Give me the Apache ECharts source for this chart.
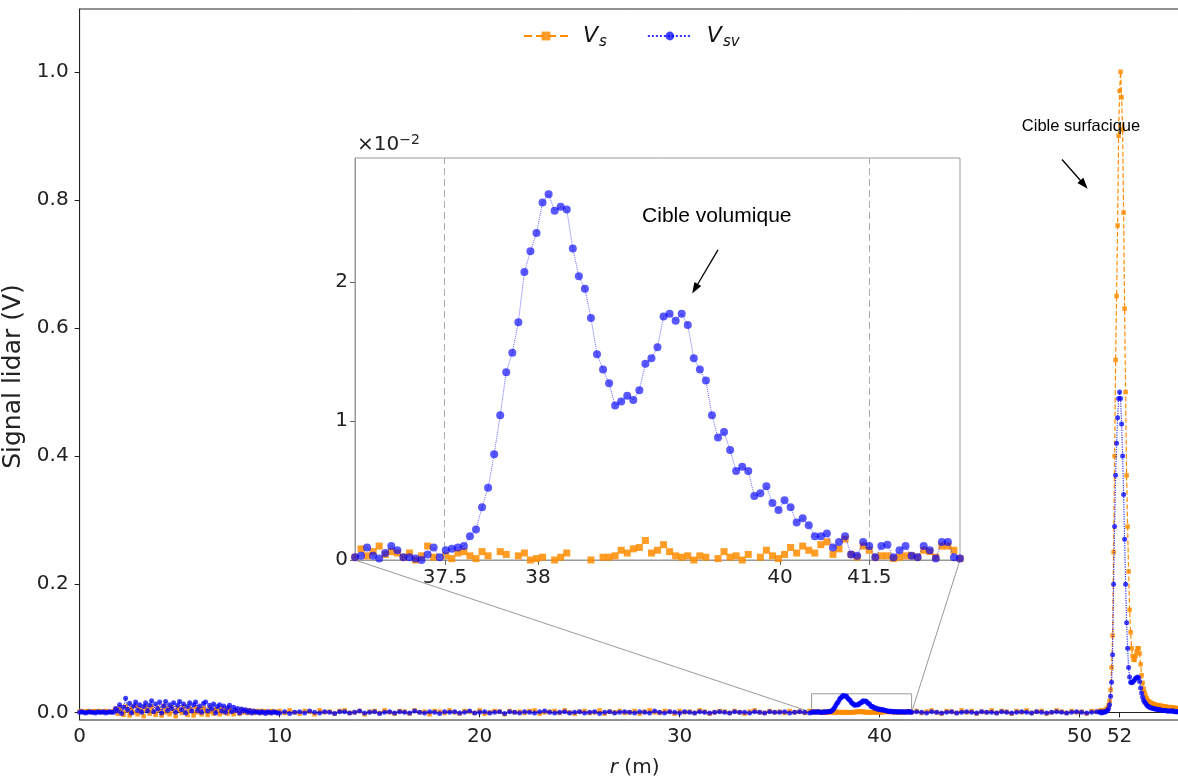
<!DOCTYPE html>
<html>
<head>
<meta charset="utf-8">
<script src="https://cdn.jsdelivr.net/npm/echarts@6/dist/echarts.min.js"></script>
<style>html,body{margin:0;padding:0;background:#fff}#c{width:1178px;height:777px}</style>
</head>
<body>
<div id="c"></div>
<script>
// ---------------- DATA ----------------
// Segment A1: r = 0.0 .. 9.9 m, step 0.1 m (values in mV)
const a1Start = 0, a1Step = 0.1;
const vsA1 = [1,2,0,1,2,1,0,2,1,1,2,0,1,2,1,0,1,2,
  5,-2,8,1,-4,9,3,-5,7,0, 10,-3,6,2,-6,8,4,-2,9,1, -4,7,3,-5,10,0,6,-3,8,2,
  -6,7,4,-1,9,1,-4,6,3,-5, 8,0,5,-3,7,2,-4,6,1,-2, 5,3,-3,6,0,4,-2,5,1,-3,
  4,2,-2,4,0,3,-1,3,1,-1, 2,0,2,-1,2,0,1,-1,2,0, 1,-1];
const vsvA1 = [0,1,0,-1,0,1,0,0,-1,1,0,0,1,-1,0,1,0,0,
  6,2,12,-2,8,22,4,14,-1,10, 16,3,12,0,9,15,2,11,18,1, 13,5,16,-1,10,17,3,12,6,15,
  0,11,17,4,13,-1,9,15,2,12, 16,3,10,0,14,16,2,11,5,13, -1,9,12,2,10,0,7,11,1,8,
  3,6,-1,5,2,4,0,3,-1,2, 0,1,-1,1,0,-2,1,0,-1,1, 0,-1];
// Segment A2: r = 10.0 .. 36.5 m, step 0.25 m (mV)
const a2Start = 10, a2Step = 0.25;
const vsA2 = [2,-1,3,0,-2,2,1,-3,3,0, 1,-2,2,3,-1,0,2,-3,1,2, -1,3,0,-2,2,1,-2,3,0,1,
  -3,2,1,-1,3,0,-2,2,1,-1, 3,-2,0,2,1,-3,2,0,1,-1, 2,3,-2,0,1,2,-1,3,0,-2,
  1,2,-1,0,3,-2,1,0,2,-1, 0,2,-2,1,3,0,-1,2,1,-2, 2,0,1,-1,3,1,-2,0,2,1,
  -1,2,0,-2,1,3,0,-1,2,0, 1,-1,2,0,1,-1,2];
const vsvA2 = [-1,1,-2,0,1,-1,2,0,-1,1, 0,-2,1,1,-1,0,2,-1,0,1, -2,0,1,-1,1,0,-1,2,0,-1,
  1,0,-2,1,0,1,-1,0,2,-1, 0,1,-1,0,1,-2,1,0,-1,1, 0,-1,1,2,0,-1,0,1,-1,0,
  1,-1,0,1,-2,0,1,-1,0,1, 0,-1,1,0,-1,2,0,-1,1,0, -1,1,0,-1,1,0,-1,0,1,0,
  -1,1,0,0,-1,1,0,-1,1,0, 0,1,-1,0,1,0,-1];
// Zoomed segment: r = 36.60 .. 41.60 m, step 0.05 m (values in 1e-2 V)
const zStart = 36.6, zStep = 0.05;
const vsZoom = [0.02,0.08,0.03,0.06,0.10,0.04,0.06,0.05,0.02,0.05,
  0.00,0.03,0.10,0.02,-0.03,0.03,0.01,0.05,0.06,0.03,
  0.01,0.06,0.03,-0.02,0.06,0.04,-0.03,0.03,0.05,0.00,
  0.01,0.02,-0.03,0.00,0.02,0.05,-0.02,-0.04,-0.03,0.00,
  -0.02,0.02,0.02,0.03,0.07,0.05,0.08,0.09,0.14,0.05,
  0.07,0.11,0.06,0.03,0.02,0.03,0.00,0.03,0.02,-0.02,
  0.01,0.06,0.02,0.03,0.00,0.04,-0.02,0.02,0.07,0.03,
  0.01,0.04,0.09,0.05,0.10,0.07,0.05,0.11,0.13,0.04,
  0.08,0.15,0.04,0.02,0.10,0.07,0.02,0.03,0.03,0.01,
  0.02,0.03,0.03,0.02,0.07,0.06,0.02,0.10,0.10,0.07,
  0.01];
const vsvZoom = [0.02,0.03,0.09,0.03,0.01,0.05,0.10,0.07,0.02,0.02,
  0.01,0.00,0.04,0.09,0.02,0.07,0.08,0.09,0.10,0.17,
  0.22,0.38,0.52,0.76,1.04,1.35,1.49,1.71,2.07,2.22,
  2.35,2.57,2.63,2.51,2.54,2.52,2.24,2.04,1.95,1.74,
  1.48,1.37,1.27,1.11,1.14,1.18,1.15,1.22,1.41,1.45,
  1.53,1.75,1.77,1.72,1.77,1.69,1.45,1.37,1.29,1.04,
  0.88,0.92,0.79,0.64,0.67,0.64,0.46,0.48,0.53,0.41,
  0.36,0.43,0.38,0.27,0.30,0.25,0.17,0.17,0.19,0.09,
  0.13,0.17,0.04,0.03,0.13,0.10,0.02,0.10,0.11,0.02,
  0.07,0.10,0.03,0.02,0.10,0.07,0.01,0.13,0.13,0.02,
  0.01];
// Segment C: r = 41.85 .. 50.85 m, step 0.25 m (mV)
const cStart = 41.85, cStep = 0.25;
const vsC = [2,-1,1,3,0,-2,2,1,-1,3, 0,2,-2,1,0,3,-1,2,1,-2, 2,0,3,-1,1,2,-2,0,3,1, -1,2,0,1,-2,2,1];
const vsvC = [1,0,-1,1,0,-1,0,1,-1,0, 1,0,-1,1,0,0,-1,1,0,-1, 0,1,0,-1,1,0,-1,0,1,0, -1,0,1,0,-1,0,1];
// Segment D (surface target): r = 51.00 .. 55.00 m, step 0.05 m (V)
const dStart = 51, dStep = 0.05;
const vsD = [0.002,0.003,0.001,0.003,0.002,0.003,0.004,0.005,0.007,0.011,
  0.018,0.035,0.07,0.12,0.25,0.40,0.55,0.65,0.76,0.90,
  0.97,1.00,0.96,0.91,0.78,0.63,0.50,0.37,0.29,0.22,
  0.16,0.125,0.10,0.088,0.082,0.082,0.088,0.095,0.10,0.10,
  0.092,0.075,0.058,0.046,0.037,0.031,0.026,0.022,0.019,0.017,
  0.016,0.015,0.014,0.013,0.013,0.012,0.012,0.011,0.011,0.011,
  0.010,0.010,0.010,0.009,0.009,0.009,0.009,0.008,0.008,0.008,
  0.008,0.008,0.007,0.007,0.007,0.007,0.007,0.006,0.006,0.006,
  0.006];
const vsvD = [0,0.001,-0.001,0,0.001,0,0.001,0.002,0.003,0.006,
  0.012,0.025,0.047,0.09,0.20,0.29,0.37,0.42,0.46,0.49,
  0.50,0.49,0.45,0.40,0.34,0.27,0.20,0.14,0.10,0.07,
  0.055,0.047,0.046,0.047,0.049,0.051,0.053,0.054,0.055,0.054,
  0.048,0.038,0.030,0.024,0.019,0.016,0.014,0.012,0.010,0.009,
  0.008,0.007,0.007,0.006,0.006,0.005,0.005,0.005,0.004,0.004,
  0.004,0.004,0.003,0.003,0.003,0.003,0.003,0.002,0.002,0.002,
  0.002,0.002,0.002,0.002,0.002,0.001,0.001,0.001,0.001,0.001,
  0.001];
// Ticks
const mainXTicks = [0,10,20,30,40,50,52];
const mainYTicks = [0,0.2,0.4,0.6,0.8,1.0];
const zoomXTickPos = [37.344,38.112,40.112,40.85];
const zoomXTickLabels = ['37.5','38','40','41.5'];
const zoomYTicks = [0,1,2];
const zoomRange = [36.6, 41.6, 0, 2.89];   // r min, r max, y min, y max (1e-2 V)
const zoomGuides = [37.344, 40.85];
// Annotations
const annSurf = {text:'Cible surfacique', at:[50.07,0.9145], from:[49.12,0.863], to:[50.22,0.824]};
const annVol = {text:'Cible volumique', at:[39.59,2.47], from:[39.6,2.23], to:[39.41,1.95]};

// ---------------- BUILD ----------------
function seg(start, step, vals, k){ return vals.map((v,i)=>[+(start+i*step).toFixed(4), v*k]); }
const vsMain = [].concat(seg(a1Start,a1Step,vsA1,1e-3), seg(a2Start,a2Step,vsA2,1e-3),
  seg(zStart,zStep,vsZoom,1e-2), seg(cStart,cStep,vsC,1e-3), seg(dStart,dStep,vsD,1));
const vsvMain = [].concat(seg(a1Start,a1Step,vsvA1,1e-3), seg(a2Start,a2Step,vsvA2,1e-3),
  seg(zStart,zStep,vsvZoom,1e-2), seg(cStart,cStep,vsvC,1e-3), seg(dStart,dStep,vsvD,1));
const vsIn = seg(zStart,zStep,vsZoom,1);
const vsvIn = seg(zStart,zStep,vsvZoom,1);

const FONT = 'DejaVu Sans';
const ORANGE = '#ff8c00', BLUE = '#0000ff';
const chart = echarts.init(document.getElementById('c'));
const axisCommon = (c)=>({axisLine:{lineStyle:{color:c,width:1}}, splitLine:{show:false}});

chart.setOption({
  animation:false,
  backgroundColor:'#fff',
  grid:[
    {left:79.6, top:9, width:1110, height:711, show:true, borderColor:'#222', borderWidth:1, outerBoundsMode:'none', containLabel:false},
    {left:355, top:158, width:605, height:402, show:true, borderColor:'#999', borderWidth:1, backgroundColor:'#fff', outerBoundsMode:'none', containLabel:false}
  ],
  legend:{
    top:25, left:523, padding:0, itemWidth:44, itemHeight:11, itemGap:40,
    data:['Vs','Vsv'],
    formatter:(n)=> n==='Vs' ? '{v|V}{s|s}' : '{v|V}{s|sv}',
    textStyle:{color:'#111', rich:{
      v:{fontFamily:FONT, fontStyle:'italic', fontSize:22, padding:[0,0,0,10]},
      s:{fontFamily:FONT, fontStyle:'italic', fontSize:15, padding:[12,0,0,1]}
    }}
  },
  xAxis:[
    Object.assign({type:'value', gridIndex:0, min:0, max:55.5,
      axisTick:{customValues:mainXTicks, length:5, lineStyle:{color:'#222'}},
      axisLabel:{customValues:mainXTicks, fontSize:20, fontFamily:FONT, color:'#222', margin:7},
      name:'{i|r} (m)', nameLocation:'middle', nameGap:38,
      nameTextStyle:{fontSize:20, fontFamily:FONT, color:'#222', rich:{i:{fontStyle:'italic', fontSize:20, fontFamily:FONT}}}
    }, axisCommon('#222')),
    Object.assign({type:'value', gridIndex:1, min:zoomRange[0], max:zoomRange[1],
      axisTick:{customValues:zoomXTickPos, length:5, lineStyle:{color:'#666'}},
      axisLabel:{customValues:zoomXTickPos, fontSize:20, fontFamily:FONT, color:'#222', margin:8,
        formatter:(v)=>{const i=zoomXTickPos.findIndex(p=>Math.abs(p-v)<1e-6); return i>=0?zoomXTickLabels[i]:'';}}
    }, axisCommon('#999'))
  ],
  yAxis:[
    Object.assign({type:'value', gridIndex:0, min:-0.012, max:1.098,
      axisTick:{customValues:mainYTicks, length:5, lineStyle:{color:'#222'}},
      axisLabel:{customValues:mainYTicks, fontSize:20, fontFamily:FONT, color:'#222', margin:11, formatter:(v)=>v.toFixed(1)},
      name:'Signal lidar (V)', nameLocation:'middle', nameGap:50, nameRotate:90,
      nameTextStyle:{fontSize:25, fontFamily:FONT, color:'#222', padding:[0,24,0,0]}
    }, axisCommon('#222')),
    Object.assign({type:'value', gridIndex:1, min:zoomRange[2], max:zoomRange[3],
      axisTick:{customValues:zoomYTicks, length:5, lineStyle:{color:'#666'}},
      axisLabel:{customValues:zoomYTicks, fontSize:20, fontFamily:FONT, color:'#222', margin:7, formatter:(v)=>String(Math.round(v))}
    }, axisCommon('#999'))
  ],
  series:[
    {name:'Vs', type:'line', xAxisIndex:0, yAxisIndex:0, data:vsMain, symbol:'rect', symbolSize:4.5,
      lineStyle:{type:'dashed', width:1.2, color:ORANGE}, itemStyle:{color:ORANGE, opacity:0.85},
      silent:true, emphasis:{disabled:true}, z:2,
      markArea:{silent:true, itemStyle:{color:'rgba(0,0,0,0)', borderColor:'#999', borderWidth:1},
        data:[[{coord:[zoomRange[0], 0]},{coord:[zoomRange[1], zoomRange[3]/100]}]]},
      markLine:{silent:true, symbol:['none','triangle'], symbolSize:[8,11], animation:false,
        lineStyle:{color:'#000', width:1.3, type:'solid'}, label:{show:false},
        data:[[{coord:annSurf.from},{coord:annSurf.to}]]}
    },
    {name:'Vsv', type:'line', xAxisIndex:0, yAxisIndex:0, data:vsvMain, symbol:'circle', symbolSize:5,
      lineStyle:{type:'dotted', width:1.2, color:BLUE, opacity:0.8}, itemStyle:{color:BLUE, opacity:0.75},
      silent:true, emphasis:{disabled:true}, z:3},
    {name:'Vs', type:'line', xAxisIndex:1, yAxisIndex:1, data:vsIn, symbol:'rect', symbolSize:7, clip:true,
      lineStyle:{type:'dashed', width:1.2, color:ORANGE, opacity:0}, itemStyle:{color:ORANGE, opacity:0.85},
      silent:true, emphasis:{disabled:true}, z:4,
      markLine:{silent:true, symbol:['none','none'], animation:false,
        lineStyle:{color:'#aaa', width:1, type:[7,4]}, label:{show:false},
        data:zoomGuides.map(x=>({xAxis:x}))}
    },
    {name:'Vsv', type:'line', xAxisIndex:1, yAxisIndex:1, data:vsvIn, symbol:'circle', symbolSize:8, clip:true,
      lineStyle:{type:'dotted', width:1, color:BLUE, opacity:0.6}, itemStyle:{color:BLUE, opacity:0.65},
      silent:true, emphasis:{disabled:true}, z:5,
      markLine:{silent:true, symbol:['none','triangle'], symbolSize:[8,11], animation:false,
        lineStyle:{color:'#000', width:1.3, type:'solid'}, label:{show:false},
        data:[[{coord:annVol.from},{coord:annVol.to}]]}
    }
  ]
});

// Graphic overlays anchored to axis coordinates
const pM = (p)=>chart.convertToPixel({xAxisIndex:0, yAxisIndex:0}, p);
const pI = (p)=>chart.convertToPixel({xAxisIndex:1, yAxisIndex:1}, p);
const inBL = pI([zoomRange[0], zoomRange[2]]), inBR = pI([zoomRange[1], zoomRange[2]]);
const inTL = pI([zoomRange[0], zoomRange[3]]);
const rBL = pM([zoomRange[0], 0]), rBR = pM([zoomRange[1], 0]);
const tS = pM(annSurf.at), tV = pI(annVol.at);
chart.setOption({graphic:[
  {type:'line', z:1, shape:{x1:inBL[0], y1:inBL[1], x2:rBL[0], y2:rBL[1]}, style:{stroke:'#999', lineWidth:1}},
  {type:'line', z:1, shape:{x1:inBR[0], y1:inBR[1], x2:rBR[0], y2:rBR[1]}, style:{stroke:'#999', lineWidth:1}},
  {type:'text', z:10, x:inTL[0]+2, y:inTL[1]-13, style:{text:'×10{sup|−2}', fill:'#222',
    font:'20px "DejaVu Sans"', textVerticalAlign:'middle',
    rich:{sup:{fontSize:14, fontFamily:FONT, padding:[0,0,10,0], fill:'#222'}}}},
  {type:'text', z:10, x:tS[0], y:tS[1], style:{text:annSurf.text, fill:'#000', font:'16.5px "Liberation Sans"', textAlign:'center', textVerticalAlign:'middle'}},
  {type:'text', z:10, x:tV[0], y:tV[1], style:{text:annVol.text, fill:'#000', font:'21px "Liberation Sans"', textAlign:'center', textVerticalAlign:'middle'}}
]});
</script>
</body>
</html>
